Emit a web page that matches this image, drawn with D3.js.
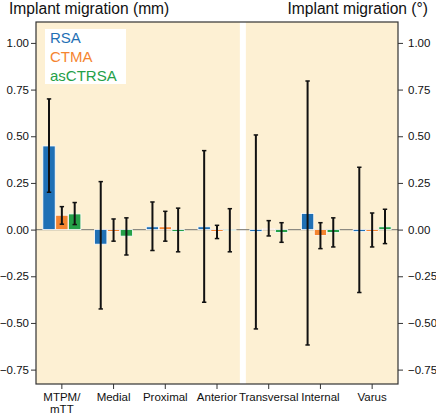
<!DOCTYPE html>
<html lang="en">
<head>
<meta charset="UTF-8">
<title>Implant migration</title>
<script src="https://d3js.org/d3.v7.min.js"></script>
<style>
  body { margin: 0; background: #fff; }
  text { font-family: "Liberation Sans", Arial, sans-serif; }
</style>
</head>
<body>
<div id="chart"></div>
<script>
const categories = ["MTPM/\nmTT", "Medial", "Proximal", "Anterior", "Transversal", "Internal", "Varus"];
const groups = ["RSA", "CTMA", "asCTRSA"];
const colors = ["#1f70b5", "#f58530", "#25a048"];

// mean values per category (RSA, CTMA, asCTRSA)
const rsaMean   = [0.448, -0.078, 0.015, 0.015, -0.01, 0.086, -0.01];
const ctmaMean  = [0.077, -0.01, 0.015, -0.01, 0.005, -0.032, -0.01];
const ctrsaMean = [0.084, -0.035, -0.01, -0.005, -0.015, -0.015, 0.015];

// error bar ranges [low, high]
const rsaErr   = [[0.20, 0.70], [-0.425, 0.257], [-0.112, 0.148], [-0.389, 0.423], [-0.532, 0.507], [-0.618, 0.796], [-0.337, 0.334]];
const ctmaErr  = [[0.029, 0.123], [-0.062, 0.057], [-0.062, 0.098], [-0.048, 0.023], [-0.034, 0.048], [-0.102, 0.037], [-0.093, 0.089]];
const ctrsaErr = [[0.027, 0.145], [-0.136, 0.063], [-0.119, 0.115], [-0.119, 0.112], [-0.068, 0.037], [-0.093, 0.063], [-0.075, 0.109]];

const yTicks = [-0.75, -0.5, -0.25, 0, 0.25, 0.5, 0.75, 1.0];

const means = [rsaMean, ctmaMean, ctrsaMean];
const errs = [rsaErr, ctmaErr, ctrsaErr];

const W = 436, H = 414;
const margin = { top: 22, right: 38, bottom: 30, left: 36 };
const width = W - margin.left - margin.right;
const height = H - margin.top - margin.bottom;

const svg = d3.select("#chart").append("svg")
  .attr("width", W).attr("height", H);

const g = svg.append("g").attr("transform", `translate(${margin.left},${margin.top})`);

const x = d3.scaleBand().domain(d3.range(categories.length)).range([0, width]).padding(0);
const xInner = d3.scaleBand().domain(d3.range(groups.length)).range([0, 38]).paddingInner(0.04);
const y = d3.scaleLinear().domain([-0.827, 1.112]).range([height, 0]);

// background
g.append("rect").attr("width", width).attr("height", height).attr("fill", "#fdf0d3");
// white separator between mm and degrees panels
const sepX = x(4);
g.append("rect").attr("x", sepX - 3).attr("width", 6).attr("y", 0).attr("height", height).attr("fill", "#fff");

// zero line
g.append("line").attr("x1", 0).attr("x2", width).attr("y1", y(0)).attr("y2", y(0))
  .attr("stroke", "#8c8a82").attr("stroke-width", 1.2);

// bars
const data = [];
categories.forEach((c, i) => {
  groups.forEach((s, j) => {
    data.push({ ci: i, gi: j, v: means[j][i], lo: errs[j][i][0], hi: errs[j][i][1] });
  });
});
const off = (x.bandwidth() - 38) / 2;

g.selectAll("rect.bar").data(data).enter().append("rect")
  .attr("class", "bar")
  .attr("x", d => x(d.ci) + off + xInner(d.gi))
  .attr("width", xInner.bandwidth())
  .attr("y", d => y(Math.max(0, d.v)))
  .attr("height", d => Math.abs(y(d.v) - y(0)))
  .attr("fill", d => colors[d.gi])
  .attr("stroke", "#fff").attr("stroke-width", 0.8);

// error bars
const eb = g.selectAll("g.err").data(data).enter().append("g")
  .attr("class", "err")
  .attr("transform", d => `translate(${x(d.ci) + off + xInner(d.gi) + xInner.bandwidth() / 2},0)`);
eb.append("line").attr("y1", d => y(d.lo)).attr("y2", d => y(d.hi))
  .attr("stroke", "#111").attr("stroke-width", 2);
eb.append("line").attr("x1", -2.2).attr("x2", 2.2).attr("y1", d => y(d.lo)).attr("y2", d => y(d.lo))
  .attr("stroke", "#111").attr("stroke-width", 1.5);
eb.append("line").attr("x1", -2.2).attr("x2", 2.2).attr("y1", d => y(d.hi)).attr("y2", d => y(d.hi))
  .attr("stroke", "#111").attr("stroke-width", 1.5);

// frame
g.append("rect").attr("width", width).attr("height", height)
  .attr("fill", "none").attr("stroke", "#333").attr("stroke-width", 1.2);

// axes
const fmt = d => d3.format(".2f")(d).replace("-", "\u2013");
const yl = g.append("g").call(d3.axisLeft(y).tickValues(yTicks).tickFormat(fmt).tickSize(5).tickPadding(2));
const yr = g.append("g").attr("transform", `translate(${width},0)`)
  .call(d3.axisRight(y).tickValues(yTicks).tickFormat(fmt).tickSize(5).tickPadding(5));
const xa = g.append("g").attr("transform", `translate(0,${height})`)
  .call(d3.axisBottom(x).tickFormat("").tickSize(5));
[yl, yr, xa].forEach(a => {
  a.select(".domain").remove();
  a.selectAll(".tick line").attr("stroke", "#333");
  a.selectAll(".tick text").attr("font-size", 11.5).attr("fill", "#111")
    .attr("font-family", "Liberation Sans, Arial, sans-serif");
});

// category labels
xa.selectAll(".tick").each(function (d) {
  const t = d3.select(this).append("text")
    .attr("text-anchor", "middle").attr("fill", "#111").attr("font-size", 11.5)
    .attr("y", 16.5);
  categories[d].split("\n").forEach((line, k) => {
    t.append("tspan").attr("x", 0).attr("dy", k === 0 ? 0 : 12).text(line);
  });
});

// legend
const leg = g.append("g").attr("transform", "translate(9,7)");
leg.append("rect").attr("width", 81).attr("height", 55).attr("fill", "#fff");
groups.forEach((s, j) => {
  leg.append("text").attr("x", 5).attr("y", 14 + j * 19)
    .attr("font-size", 15).attr("fill", colors[j]).text(s);
});

// titles
svg.append("text").attr("x", 9).attr("y", 14).attr("font-size", 15.6).attr("fill", "#111")
  .text("Implant migration (mm)");
svg.append("text").attr("x", 428).attr("y", 14).attr("font-size", 15.6).attr("fill", "#111")
  .attr("text-anchor", "end").text("Implant migration (°)");
</script>
</body>
</html>
